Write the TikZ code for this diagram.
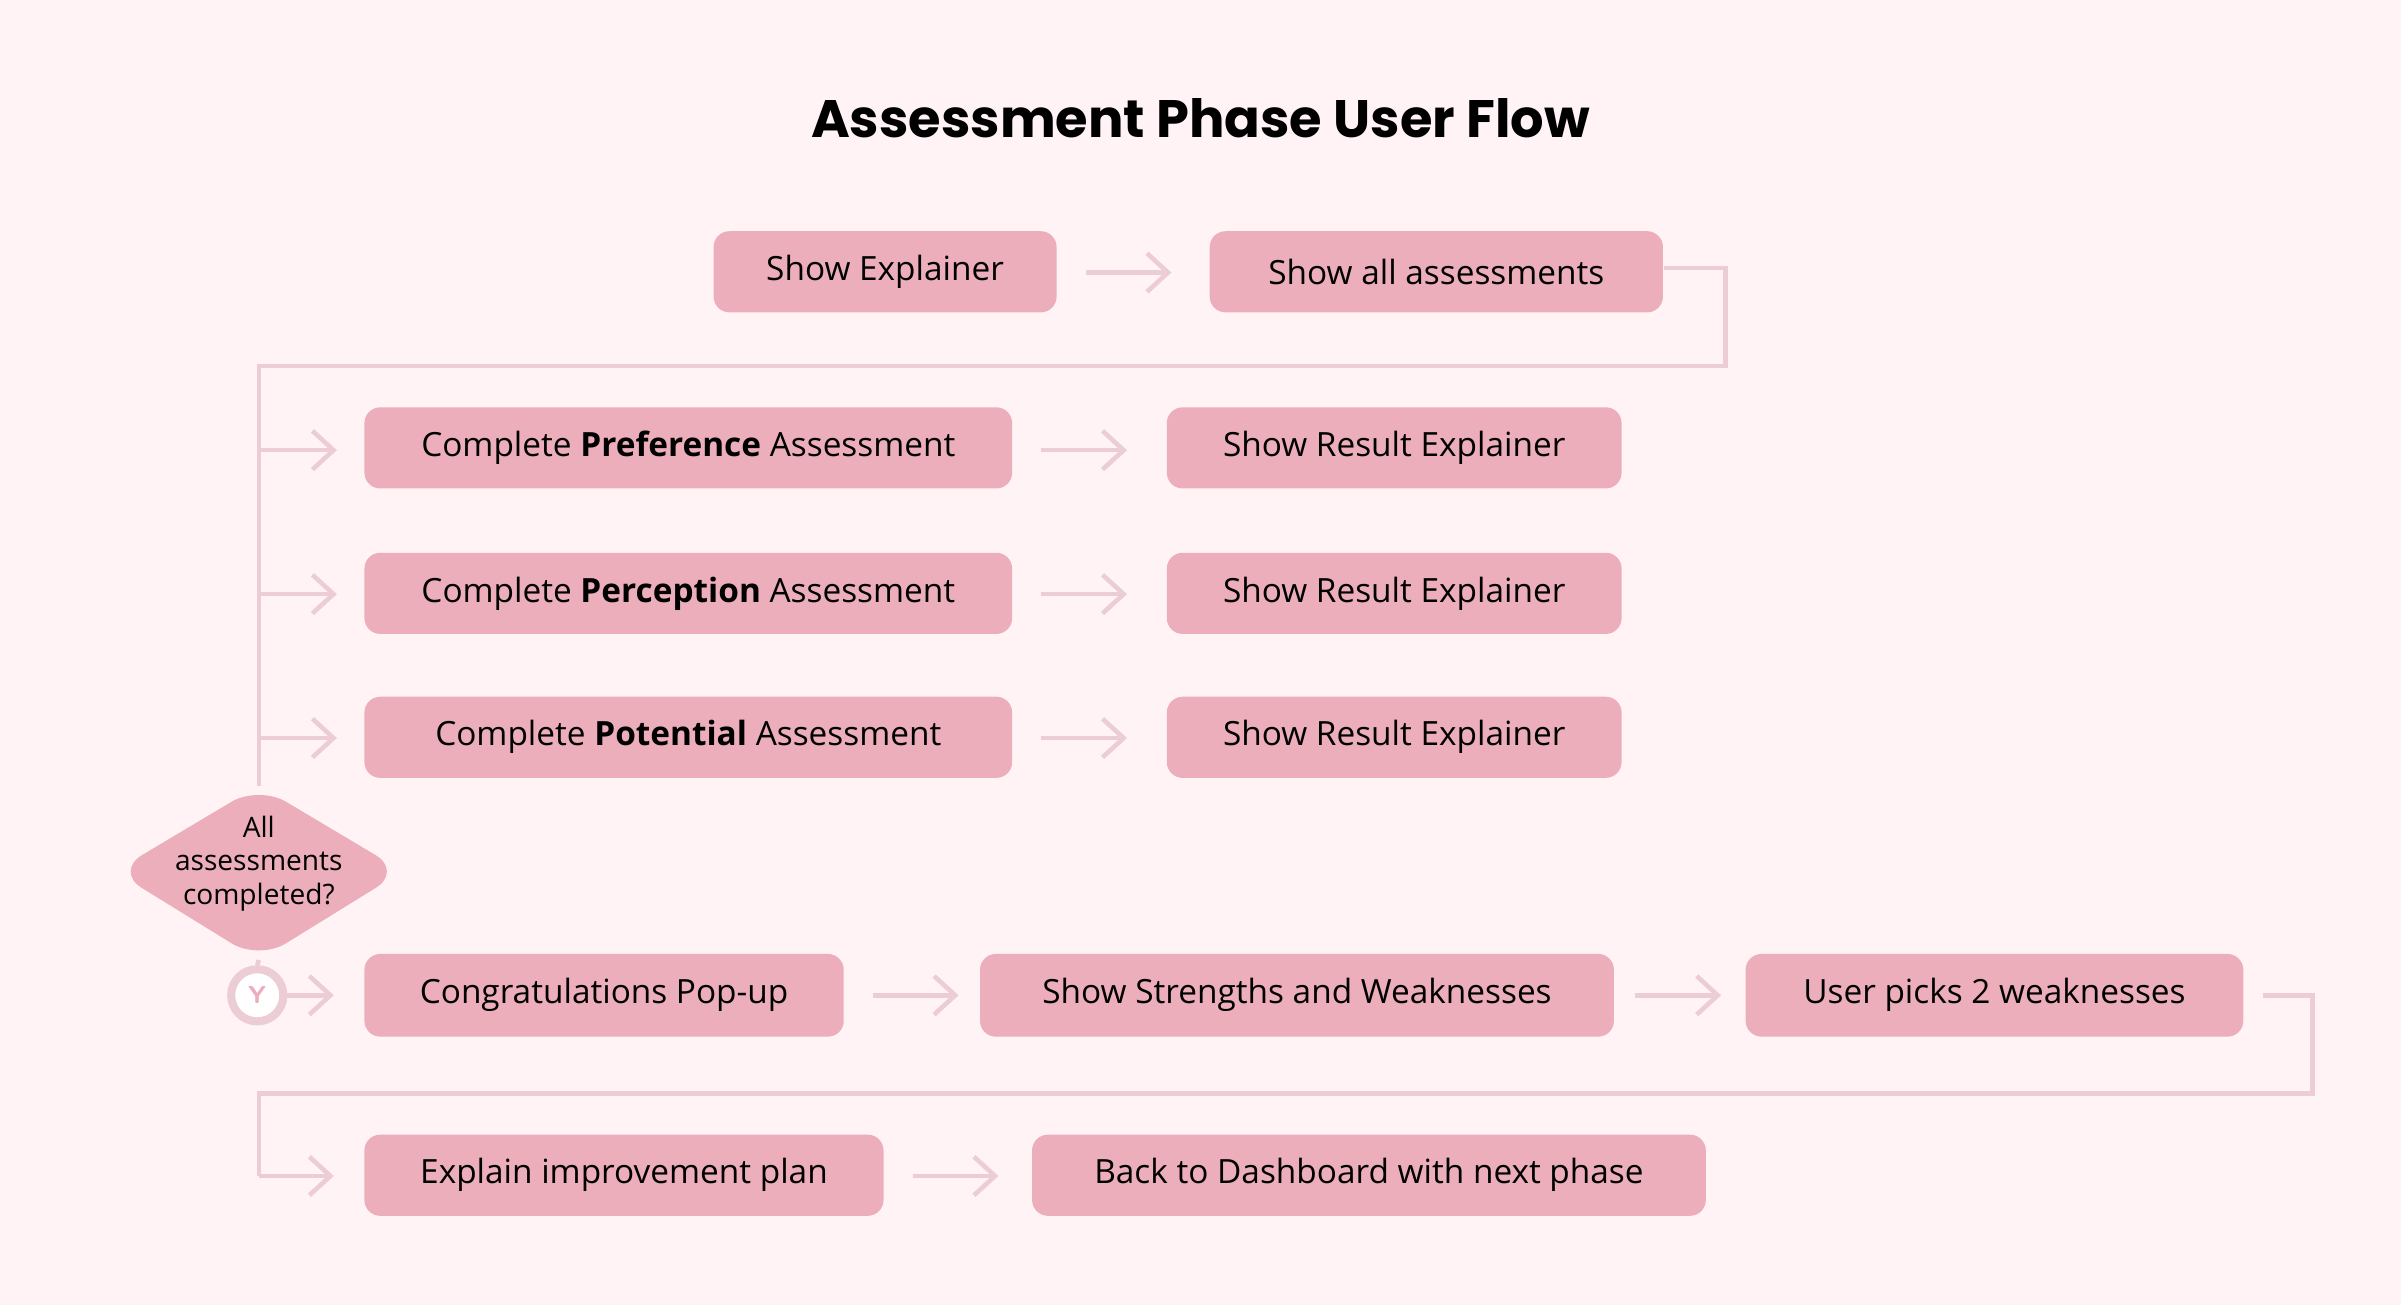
\documentclass[tikz,border=0pt]{standalone}
\usepackage{fontspec}
\setmainfont{Open Sans}
\newfontfamily\titlefont{Poppins}
\usetikzlibrary{arrows.meta}
\definecolor{bg}{HTML}{FFF3F6}
\definecolor{boxc}{HTML}{ECAEBB}
\definecolor{linec}{HTML}{EDCDD5}
\tikzset{
 box/.style={fill=boxc,rounded corners=4.5pt,inner sep=0pt,font=\fontsize{9.5}{11}\selectfont},
 conn/.style={draw=linec,line width=1.3pt},
 arr/.style={conn,-{Straight Barb[length=6pt,width=11pt,line width=1.3pt]}},
}
\newcommand{\bx}[5]{\path[box] (#1,#2) rectangle (#3,#4); \node[font=\fontsize{9.5}{11}\selectfont] (#5) at ({(#1+#3)/2},{(#2+#4)/2}) [minimum width={(#3-#1)*0.15313cm}, minimum height={(#4-#2)*0.15313cm}, inner sep=0pt] {};}
\begin{document}
\begin{tikzpicture}[x=0.015313cm,y=-0.015313cm]
\path[fill=bg] (0,0) rectangle (1568,852);
\node[font=\titlefont\fontsize{15}{18}\selectfont\bfseries] (title) at (784,77) {Assessment Phase User Flow};
\def\B#1#2#3#4#5#6{\path[box] (#1,#2) rectangle (#3,#4);
 \node[font=\fontsize{9.5}{11}\selectfont,inner sep=0pt,minimum width={(#3-#1)*0.015313cm},minimum height={(#4-#2)*0.015313cm}] (#5) at ({(#1+#3)/2},{(#2+#4)/2}) {#6};}
\B{466}{151}{690}{204}{expl}{Show Explainer}
\B{790}{151}{1086}{204}{all}{Show all assessments}
\B{238}{266}{661}{319}{pref}{Complete \textbf{Preference} Assessment}
\B{762}{266}{1059}{319}{r1}{Show Result Explainer}
\B{238}{361}{661}{414}{perc}{Complete \textbf{Perception} Assessment}
\B{762}{361}{1059}{414}{r2}{Show Result Explainer}
\B{238}{455}{661}{508}{pot}{Complete \textbf{Potential} Assessment}
\B{762}{455}{1059}{508}{r3}{Show Result Explainer}
\B{238}{623}{551}{677}{cong}{Congratulations Pop-up}
\B{640}{623}{1054}{677}{sw}{Show Strengths and Weaknesses}
\B{1140}{623}{1465}{677}{pick}{User picks 2 weaknesses}
\B{238}{741}{577}{794}{plan}{Explain improvement plan}
\B{674}{741}{1114}{794}{back}{Back to Dashboard with next phase}
% diamond
\path[fill=boxc,rounded corners=9pt] (169,513) -- (263,569) -- (169,627) -- (75,569) -- cycle;
\node[font=\fontsize{8}{9.5}\selectfont,align=center] (dec) at (169,564) {All\\assessments\\completed?};
\coordinate (dtop) at (169,513);
\coordinate (dbot) at (169,627);
% Y circle
\node[circle,fill=white,draw=linec,line width=2.3pt,minimum size=27pt*0.55,inner sep=0pt,font=\sffamily\bfseries\fontsize{7}{8}\selectfont,text=boxc] (y) at (168,650) {Y};
% arrows
\draw[arr] (709,178) -- (765,178);
\foreach \yy in {294,388,482}{\draw[arr] (680,\yy) -- (736,\yy);}
\draw[arr] (570,650) -- (626,650);
\draw[arr] (1068,650) -- (1124,650);
\draw[arr] (596,768) -- (652,768);
% main connector
\draw[conn] (all.east |- 0,175) -- (1127,175) -- (1127,239) -- (169,239) -- (dtop);
\foreach \yy in {294,388,482}{\draw[arr] (169,\yy) -- (220,\yy);}
\draw[conn] (dbot) -- (y.north);
\draw[arr] (y.east) -- (218,650);
\draw[conn] (1478,650) -- (1510,650) -- (1510,714) -- (169,714) -- (169,768);
\draw[arr] (169,768) -- (218,768);
\end{tikzpicture}
\end{document}
